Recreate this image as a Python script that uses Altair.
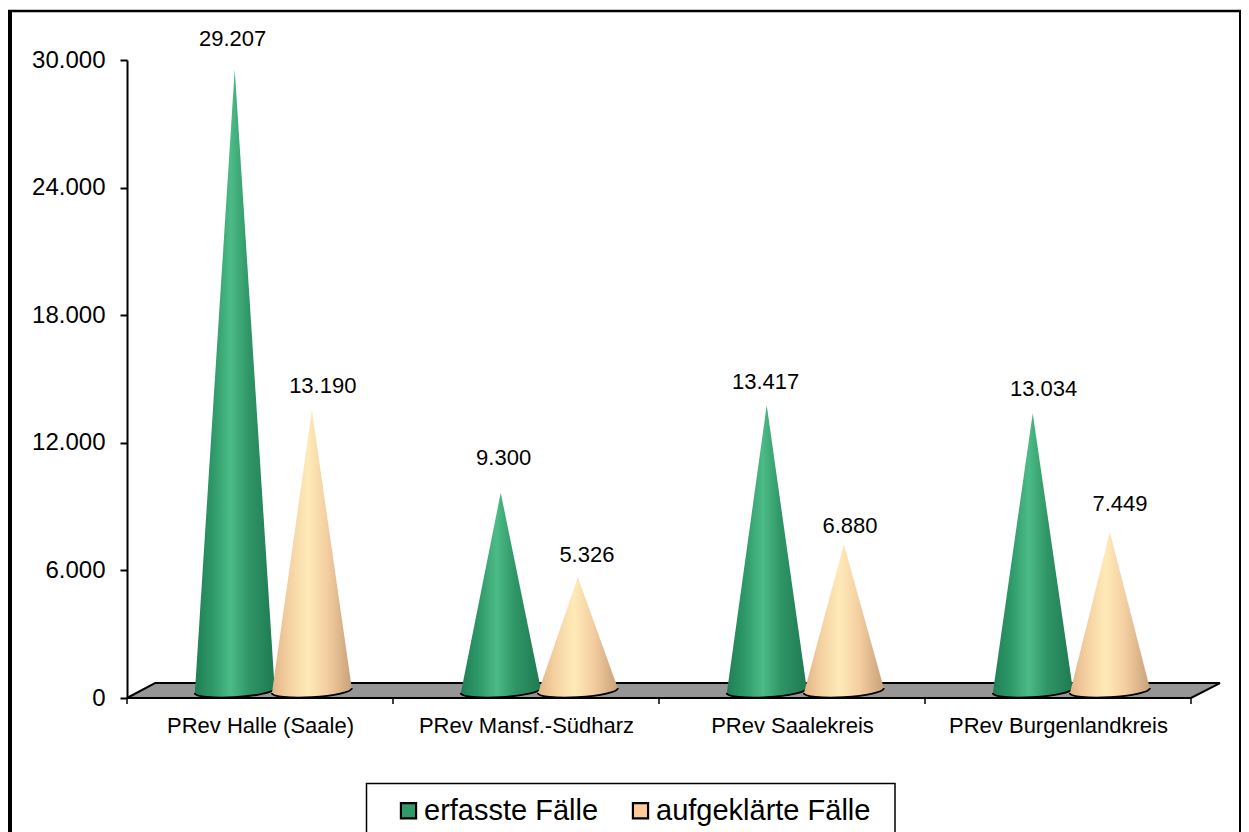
import json
import altair as alt
import pandas as pd

categories = ["PRev Halle (Saale)", "PRev Mansf.-Südharz", "PRev Saalekreis", "PRev Burgenlandkreis"]
series_names = ["erfasste Fälle", "aufgeklärte Fälle"]
erfasst = [29207, 9300, 13417, 13034]
aufgeklaert = [13190, 5326, 6880, 7449]
y_ticks = [0, 6000, 12000, 18000, 24000, 30000]
x_ticks = [0, 1, 2, 3, 4]
label_shift_x = [[-0.008, 0.011, -0.004, 0.041], [0.041, 0.034, 0.023, 0.038]]
label_lift_y = [[1410, 1650, 1080, 1130], [1130, 1030, 850, 1320]]

FONT = "Liberation Sans"
GREEN = "#339966"
AMBER = "#FFCC99"

xs = alt.Scale(domain=[0, 4], nice=False, zero=False)
ys = alt.Scale(domain=[0, 30000], nice=False, zero=False)

x_axis = alt.Axis(
    values=[0.5, 1.5, 2.5, 3.5], tickSize=0, domain=False, grid=False, title=None,
    labelExpr=json.dumps(categories) + "[floor(datum.value)]",
    labelFont=FONT, labelFontSize=22, labelColor="black", labelPadding=17, labelOverlap=False,
    labelLimit=400)
y_axis = alt.Axis(
    values=y_ticks, tickSize=7, tickColor="black", tickWidth=2, domain=True, domainColor="black",
    domainWidth=2, grid=False, title=None,
    labelExpr="replace(format(datum.value, ','), ',', '.')",
    labelFont=FONT, labelFontSize=24, labelColor="black", labelPadding=15)

green_grad = alt.Gradient(gradient="linear", x1=0, x2=1, y1=0, y2=0, stops=[
    alt.GradientStop(color="#1F7F55", offset=0), alt.GradientStop(color="#2E9868", offset=0.22),
    alt.GradientStop(color="#4CBB86", offset=0.45), alt.GradientStop(color="#2F9566", offset=0.68),
    alt.GradientStop(color="#1E7A52", offset=1)])
amber_grad = alt.Gradient(gradient="linear", x1=0, x2=1, y1=0, y2=0, stops=[
    alt.GradientStop(color="#E3B486", offset=0), alt.GradientStop(color="#F5D2A2", offset=0.22),
    alt.GradientStop(color="#FFEAB8", offset=0.45), alt.GradientStop(color="#F3CDA0", offset=0.7),
    alt.GradientStop(color="#C9A078", offset=1)])

HALF = 0.15
BASE_L, BASE_M, BASE_R = 235, 352, 470
CENTER = [0.405, 0.695]


def de(v):
    return f"{v:,}".replace(",", ".")


def cone_rows(values, centre):
    rows = []
    for i, v in enumerate(values):
        c = i + centre
        rows += [
            dict(c=i, x=c - HALF, y=BASE_L, y2=BASE_L),
            dict(c=i, x=c, y=BASE_M + v, y2=BASE_M),
            dict(c=i, x=c + HALF, y=BASE_R, y2=BASE_R),
        ]
    return pd.DataFrame(rows)


def base_rows(values, centre):
    return pd.DataFrame([dict(x=i + centre, y=BASE_M, s=s) for i, s in enumerate(categories)])


X = lambda: alt.X("x:Q", scale=xs, axis=x_axis)
Y = lambda: alt.Y("y:Q", scale=ys, axis=y_axis)

ELLIPSE = "M -1 0.06 A 1 0.17 -3.5 0 0 1 -0.06 A 1 0.17 -3.5 0 0 -1 0.06 Z"
ARC = "M -1 0.06 A 1 0.17 -3.5 0 0 1 -0.06"

floor = alt.Chart(pd.DataFrame({"y": [0, 700], "x": [0, 0.105], "x2": [4, 4.109]})).mark_area(
    orient="horizontal", fill="#969696", stroke="black", strokeWidth=2
).encode(x=X(), x2="x2:Q", y=Y())

ticks = alt.Chart(pd.DataFrame({"x": x_ticks})).mark_rule(color="black", strokeWidth=1.5).encode(
    x=X(), y=alt.value(638), y2=alt.value(644))


def cones(values, centre, grad):
    df = cone_rows(values, centre)
    body = alt.Chart(df).mark_area(fill=grad, orient="vertical").encode(
        x=X(), y=Y(), y2="y2:Q", detail="c:N")
    bdf = base_rows(values, centre)
    ell = alt.Chart(bdf).mark_point(shape=ELLIPSE, filled=True, fill=grad, opacity=1, size=6400, strokeWidth=0).encode(
        x=X(), y=Y())
    arc = alt.Chart(bdf).mark_point(shape=ARC, filled=False, fill=None, stroke="black", strokeWidth=2, opacity=1, size=6400).encode(
        x=X(), y=Y())
    return [ell, body, arc]


def labels():
    rows = []
    for s, (vals, centre) in enumerate(zip([erfasst, aufgeklaert], CENTER)):
        for i, v in enumerate(vals):
            rows.append(dict(x=i + centre + label_shift_x[s][i], y=BASE_M + v + label_lift_y[s][i], t=de(v)))
    return alt.Chart(pd.DataFrame(rows)).mark_text(font=FONT, fontSize=22, color="black").encode(
        x=X(), y=Y(), text="t:N")


one = pd.DataFrame({"a": [0]})
frame = [
    alt.Chart(one).mark_rule(color="black", strokeWidth=4).encode(x=alt.value(-117), y=alt.value(-50), y2=alt.value(780)),
    alt.Chart(one).mark_rule(color="black", strokeWidth=2.5).encode(x=alt.value(-119), x2=alt.value(1114), y=alt.value(-49)),
    alt.Chart(one).mark_rule(color="black", strokeWidth=2).encode(x=alt.value(1113), y=alt.value(-50), y2=alt.value(780)),
]
legend_box = alt.Chart(one).mark_rect(fill="white", stroke="black", strokeWidth=1.5).encode(
    x=alt.value(239.5), x2=alt.value(768), y=alt.value(723.5), y2=alt.value(790))

legend_src = alt.Chart(pd.DataFrame({"x": [0.4, 0.7], "y": [352, 352], "s": series_names})).mark_square(size=1, opacity=0).encode(
    x=X(), y=Y(),
    color=alt.Color("s:N", scale=alt.Scale(domain=series_names, range=[GREEN, AMBER]), legend=alt.Legend(
        orient="none", legendX=267, legendY=736, direction="horizontal", title=None, padding=0,
        symbolType="square", symbolSize=230, symbolStrokeColor="black", symbolStrokeWidth=2.2,
        symbolOpacity=1, labelFont=FONT, labelFontSize=29, labelColor="black", labelOffset=1,
        columnPadding=27, labelLimit=400)),
)

chart = alt.layer(
    floor, ticks, *cones(erfasst, CENTER[0], green_grad), *cones(aufgeklaert, CENTER[1], amber_grad),
    labels(), *frame, legend_box, legend_src,
).properties(
    width=1064, height=638,
    padding={"left": 119, "top": 52, "right": 50, "bottom": 134},
    autosize=alt.AutoSizeParams(type="none"),
    background="white",
).configure_view(stroke=None)

chart.save("out.html", embed_options={"renderer": "svg", "actions": False})
